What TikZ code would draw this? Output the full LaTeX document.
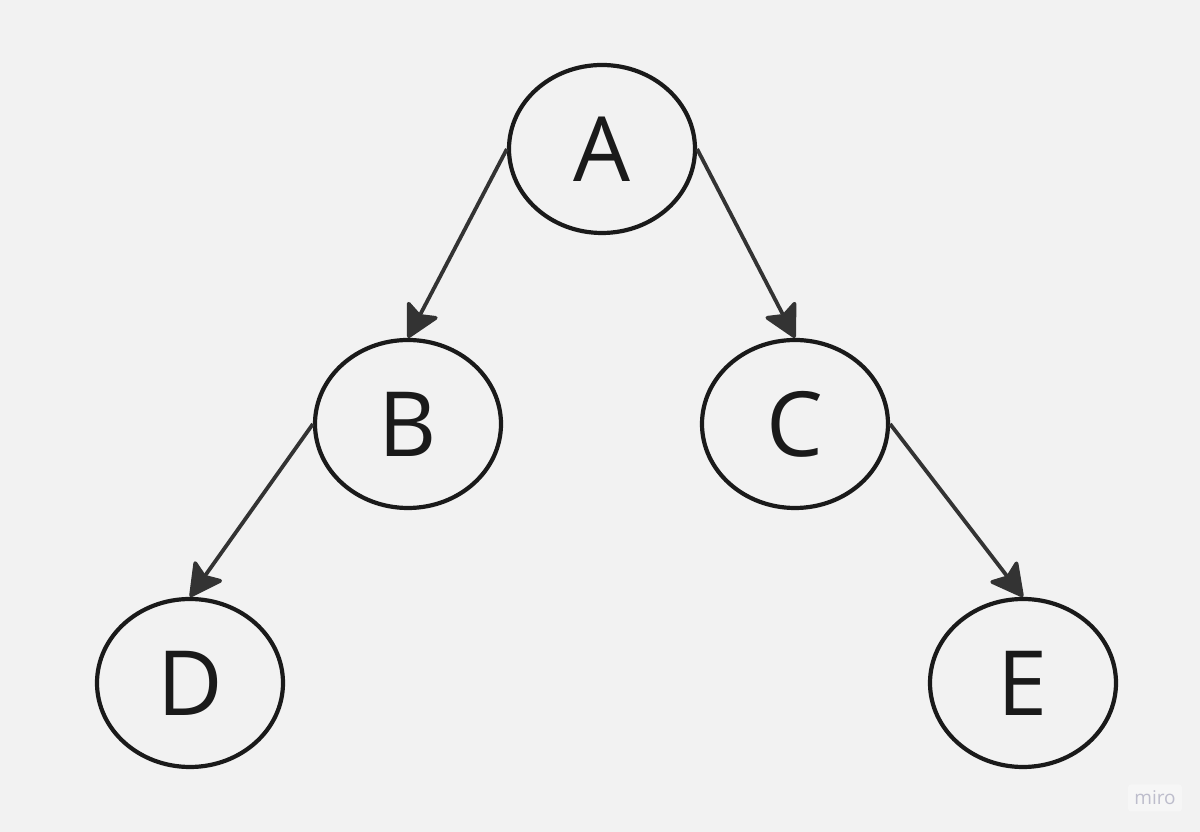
\documentclass[tikz,border=0pt]{standalone}
\usepackage{fontspec}
\setmainfont{Open Sans}
\usetikzlibrary{arrows.meta, positioning, shapes.geometric}
\definecolor{board}{HTML}{F2F2F2}
\definecolor{ink}{HTML}{1A1A1A}
\definecolor{edgegray}{HTML}{333333}
\definecolor{logogray}{HTML}{BDBDCC}
\definecolor{logobg}{HTML}{F6F6F6}

\begin{document}
\begin{tikzpicture}[
  x=1pt, y=1pt,
  >={Stealth[length=36pt, width=38pt, inset=7pt, round]},
  vertex/.style={ellipse, draw=ink, line width=4.2pt, inner sep=0pt,
    minimum width=186pt, minimum height=168pt, text=ink,
    font=\fontsize{90}{90}\selectfont},
  edge/.style={->, line width=3.8pt, draw=edgegray, fill=edgegray},
]
  % canvas
  \fill[board] (0,0) rectangle (1200,832);

  % tree
  \node[vertex] (A) at (602,683) {A};
  \node[vertex] (B) at (408,408) {B};
  \node[vertex] (C) at (795,408) {C};
  \node[vertex] (D) at (190,149) {D};
  \node[vertex] (E) at (1023,149) {E};

  \foreach \from/\to in {A.west/B.north, A.east/C.north, B.west/D.north, C.east/E.north}
    \draw[edge] (\from) -- (\to);

  % watermark
  \node[fill=logobg, rounded corners=3pt, text=logogray, minimum width=54pt,
    minimum height=27pt, font=\fontsize{19}{19}\selectfont] (logo) at (1155,34) {miro};
\end{tikzpicture}
\end{document}
